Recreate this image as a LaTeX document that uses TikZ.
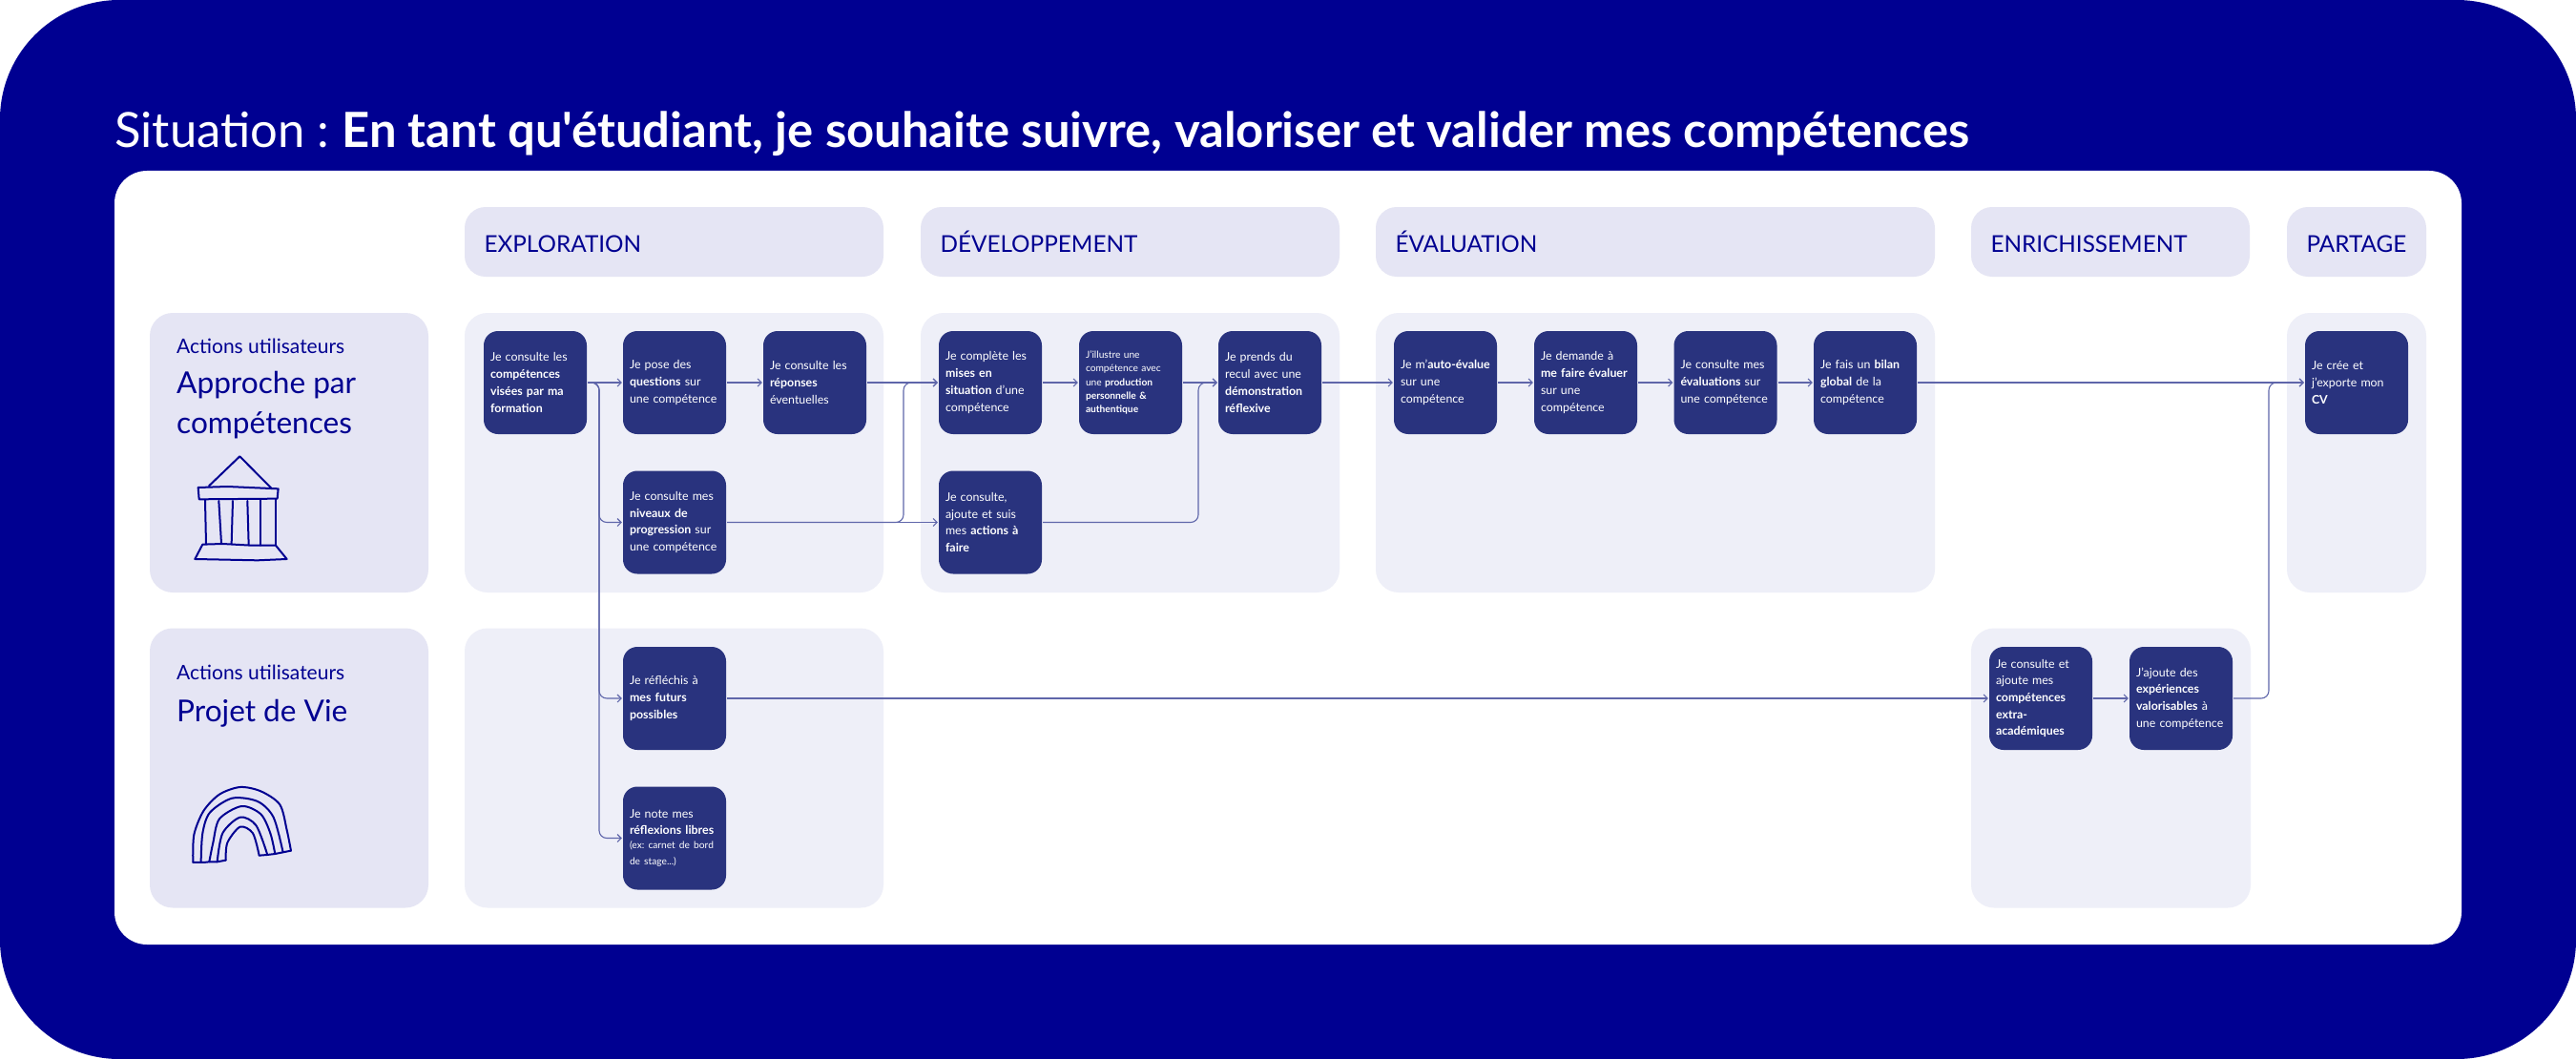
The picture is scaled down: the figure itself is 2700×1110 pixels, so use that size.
\documentclass[tikz,border=0pt]{standalone}
\usepackage{fontspec}
\setmainfont{Lato}
\newfontfamily\titlefont{Lato}
\usetikzlibrary{arrows.meta}
\hyphenpenalty=10000
\frenchspacing
\definecolor{navy}{HTML}{000091}
\definecolor{boxblue}{HTML}{29337E}
\definecolor{headgray}{HTML}{E5E5F4}
\definecolor{bandgray}{HTML}{EEEFF8}
\definecolor{linkblue}{HTML}{5F66AA}
\tikzset{
  panelbox/.style={fill=white, rounded corners=34pt, inner sep=0pt},
  headbox/.style={fill=headgray, rounded corners=22pt, minimum height=73pt, inner xsep=20.5pt, inner ysep=0pt,
    align=left, text=navy, text height=21pt, text depth=0pt, font=\fontsize{24.3}{28}\selectfont},
  bandbox/.style={fill=bandgray, rounded corners=24pt, minimum height=293pt, inner sep=0pt},
  rowbox/.style={fill=headgray, rounded corners=24pt, minimum width=292pt, minimum height=293pt, inner sep=0pt},
  stepbox/.style={fill=boxblue, rounded corners=15pt, minimum height=108pt, text width=94pt, inner xsep=7pt,
    inner ysep=0pt, align=left, text=white, font=\fontsize{12.4}{17.7}\selectfont},
  smalltxt/.style={font=\fontsize{10.2}{14.3}\selectfont},
  rowsub/.style={anchor=base west, inner sep=0pt, text=navy, font=\fontsize{21}{25}\selectfont},
  rowtitle/.style={anchor=north west, inner sep=0pt, text=navy, align=left, font=\fontsize{31.6}{42}\selectfont},
  link/.style={->, linkblue, line width=1.1pt, shorten >=1pt, shorten <=1pt},
  elbow/.style={link, rounded corners=8pt},
  sketch/.style={navy, line width=2pt, line join=round, line cap=round},
  >={Straight Barb[length=4pt,width=8pt]}
}
\begin{document}
\begin{tikzpicture}[x=1pt, y=-1pt]
\useasboundingbox (0,0) rectangle (2700,1110);
\fill[navy, rounded corners=125pt] (0,0) rectangle (2700,1110);

% title
\node[anchor=base west, inner sep=0pt, text=white, font=\titlefont\fontsize{50.8}{56}\selectfont] (title) at (120,155)
  {Situation : \textbf{En tant qu'étudiant, je souhaite suivre, valoriser et valider mes compétences}};
\node[panelbox, minimum width=2460pt, minimum height=811pt] (panel) at (1350,584.5) {};

% phase headers
\node[headbox, text width=398pt] (hExplo) at (706.5,253.5) {EXPLORATION};
\node[headbox, text width=398pt] (hDev) at (1184.5,253.5) {DÉVELOPPEMENT};
\node[headbox, text width=545pt] (hEval) at (1735,253.5) {ÉVALUATION};
\node[headbox, text width=251pt] (hEnrich) at (2212,253.5) {ENRICHISSEMENT};
\node[headbox, text width=105pt] (hPart) at (2470,253.5) {PARTAGE};

% row labels
\node[rowbox] (rApproche) at (303,474.5) {};
\node[rowbox] (rProjet) at (303,805) {};
\node[rowsub] (subA) at (185,370) {Actions utilisateurs};
\node[rowtitle] (titleA) at (185,389) {Approche par\\compétences};
\node[rowsub] (subB) at (185,712) {Actions utilisateurs};
\node[rowtitle] (titleB) at (185,733) {Projet de Vie};

% bands
\node[bandbox, minimum width=439pt] (bExplo) at (706.5,474.5) {};
\node[bandbox, minimum width=439pt] (bDev) at (1184.5,474.5) {};
\node[bandbox, minimum width=586pt] (bEval) at (1735,474.5) {};
\node[bandbox, minimum width=146pt] (bPart) at (2470,474.5) {};
\node[bandbox, minimum width=439pt] (bVie) at (706.5,805) {};
\node[bandbox, minimum width=293pt] (bEnrich) at (2212.5,805) {};

% temple
\begin{scope}[shift={(170,460)}, scale=.3333, sketch]
\draw (147,148) -- (244,55) -- (343,155);
\draw (113,153) -- (205,150) -- (365,157) -- (362,188) -- (116,190) -- cycle;
\draw (135,192) -- (138,330);
\draw (178,195) -- (186,328);
\draw (222,195) -- (218,330);
\draw (268,195) -- (272,333);
\draw (310,193) -- (310,335);
\draw (357,190) -- (357,333);
\draw (103,378) -- (127,332) -- (190,330) -- (280,335) -- (357,335) -- (392,378) -- (300,382) -- cycle;
\end{scope}

% rainbow
\begin{scope}[shift={(180,810)}, scale=.3333, sketch]
\draw plot[smooth] coordinates {(67,282) (70,195) (100,120) (150,68) (215,45) (280,58) (340,100) (362,180) (375,245)};
\draw plot[smooth] coordinates {(92,280) (97,190) (120,125) (190,80) (270,90) (320,140) (350,250)};
\draw plot[smooth] coordinates {(118,280) (130,220) (150,145) (220,105) (280,130) (310,190) (325,255)};
\draw plot[smooth] coordinates {(143,280) (160,190) (215,140) (265,165) (300,255)};
\draw plot[smooth] coordinates {(170,275) (175,220) (215,170) (255,190) (275,260)};
\draw (67,282) -- (100,282) -- (118,280) -- (143,280) -- (170,275);
\draw (275,260) -- (300,258) -- (325,255) -- (375,245);
\end{scope}

% steps
\node[stepbox] (cons) at (561,401) {Je consulte les\\\textbf{compétences}\\\textbf{visées par ma}\\\textbf{formation}};
\node[stepbox] (ques) at (707,401) {Je pose des\\\textbf{questions} sur\\une compétence};
\node[stepbox] (repo) at (854,401) {Je consulte les\\\textbf{réponses}\\éventuelles};
\node[stepbox] (nive) at (707,547.5) {Je consulte mes\\\textbf{niveaux de}\\\textbf{progression} sur\\une compétence};
\node[stepbox] (comp) at (1038,401) {Je complète les\\\textbf{mises en}\\\textbf{situation} d’une\\compétence};
\node[stepbox, smalltxt] (illu) at (1185,401) {J’illustre une\\compétence avec\\une \textbf{production}\\\textbf{personnelle \&}\\\textbf{authentique}};
\node[stepbox] (recu) at (1331,401) {Je prends du\\recul avec une\\\textbf{démonstration}\\\textbf{réflexive}};
\node[stepbox] (acti) at (1038,547.5) {Je consulte,\\ajoute et suis\\mes \textbf{actions à}\\\textbf{faire}};
\node[stepbox] (auto) at (1515,401) {Je m’\textbf{auto-évalue}\\sur une\\compétence};
\node[stepbox] (dema) at (1662,401) {Je demande à\\\textbf{me faire évaluer}\\sur une\\compétence};
\node[stepbox] (eval) at (1808.5,401) {Je consulte mes\\\textbf{évaluations} sur\\une compétence};
\node[stepbox] (bila) at (1955,401) {Je fais un \textbf{bilan}\\\textbf{global} de la\\compétence};
\node[stepbox] (cvex) at (2470,401) {Je crée et\\j’exporte mon\\\textbf{CV}};
\node[stepbox] (futu) at (707,732) {Je réfléchis à\\\textbf{mes futurs}\\\textbf{possibles}};
\node[stepbox] (refl) at (707,878.5) {Je note mes\\\textbf{réflexions libres}\par\fontsize{10.2}{14.3}\selectfont (ex: carnet de bord\\de stage...)};
\node[stepbox] (extr) at (2139,732) {Je consulte et\\ajoute mes\\\textbf{compétences}\\\textbf{extra-}\\\textbf{académiques}};
\node[stepbox] (expe) at (2286,732) {J’ajoute des\\\textbf{expériences}\\\textbf{valorisables} à\\une compétence};

% bends
\coordinate (trunk) at (628,401);
\coordinate (bendA) at (947,547.5);
\coordinate (bendB) at (1256,547.5);
\coordinate (bendC) at (2378,732);

% arrows
\draw[link] (cons) -- (ques);
\draw[link] (ques) -- (repo);
\draw[link] (repo) -- (comp);
\draw[link] (nive) -- (acti);
\draw[link] (comp) -- (illu);
\draw[link] (illu) -- (recu);
\draw[link] (recu) -- (auto);
\draw[link] (auto) -- (dema);
\draw[link] (dema) -- (eval);
\draw[link] (eval) -- (bila);
\draw[link] (bila) -- (cvex);
\draw[link] (futu) -- (extr);
\draw[link] (extr) -- (expe);
\draw[elbow] (cons.east) -- (trunk) |- (nive.west);
\draw[elbow] (cons.east) -- (trunk) |- (futu.west);
\draw[elbow] (cons.east) -- (trunk) |- (refl.west);
\draw[elbow] (nive.east) -- (bendA) |- (comp.west);
\draw[elbow] (acti.east) -- (bendB) |- (recu.west);
\draw[elbow] (expe.east) -- (bendC) |- (cvex.west);
\end{tikzpicture}
\end{document}
